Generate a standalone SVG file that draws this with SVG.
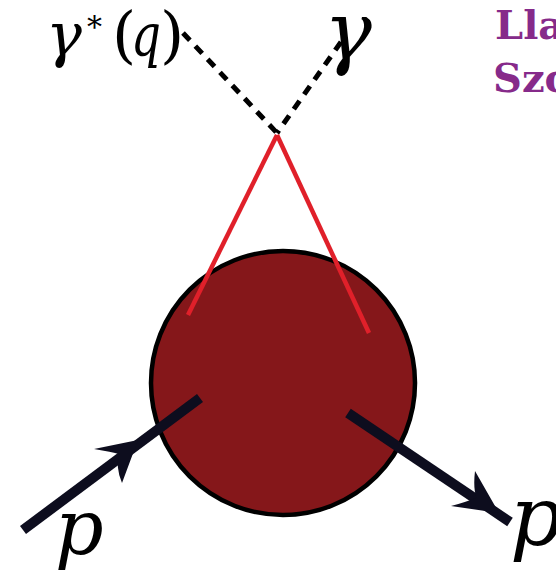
<svg xmlns="http://www.w3.org/2000/svg" width="556" height="575" viewBox="0 0 556 575">
<style>
.math{font-family:'DejaVu Serif',serif;font-style:italic;fill:#000}
.up{font-style:normal}
.auth{font-family:'DejaVu Serif',serif;font-weight:bold;font-size:40px;fill:#862A8A}
.photon{stroke:#000;stroke-width:5;stroke-dasharray:10 8;fill:none}
.quark{stroke:#E0202A;stroke-width:4.5;fill:none}
.proton{stroke:#0D0D1E;stroke-width:10;fill:none}
.head{fill:#0D0D1E}
</style>
<rect width="556" height="575" fill="#fff"/>
<g id="blob">
<circle cx="283" cy="383" r="132" fill="#85171A" stroke="#000" stroke-width="4.5"/>
</g>
<g id="connectors">
<line class="photon" x1="183" y1="33" x2="277" y2="133"/>
<line class="photon" x1="341" y1="42" x2="277" y2="133"/>
<line class="quark" x1="277" y1="135" x2="188" y2="315"/>
<line class="quark" x1="277" y1="135" x2="369" y2="333"/>
<line class="proton" x1="23" y1="530" x2="200" y2="398"/>
<path class="head" d="M138,440 L94,449 Q112,452 119.4,454.2 Q115,466 122,483 Z"/>
<line class="proton" x1="348" y1="413" x2="510" y2="522"/>
<path class="head" d="M499,513 L475,471 Q473,488 476.4,497.7 Q466,502 451,506 Z"/>
</g>
<g id="label-gamma-star">
<text class="math" y="56" font-size="60"><tspan x="46">γ</tspan><tspan class="up" x="87" y="37" font-size="30">*</tspan><tspan class="up" x="112" y="56" font-size="62">(</tspan><tspan x="131" textLength="30" lengthAdjust="spacingAndGlyphs">q</tspan><tspan class="up" x="160" font-size="62">)</tspan></text>
</g>
<g id="label-gamma">
<text class="math" x="324" y="59" font-size="80">γ</text>
</g>
<g id="label-p-in">
<text class="math" x="55" y="554" font-size="76">p</text>
</g>
<g id="label-p-out">
<text class="math" x="510" y="545" font-size="82">p</text>
</g>
<g id="authors">
<text class="auth" x="495" y="39">Lla</text>
<text class="auth" x="493" y="92">Szc</text>
</g>
</svg>
